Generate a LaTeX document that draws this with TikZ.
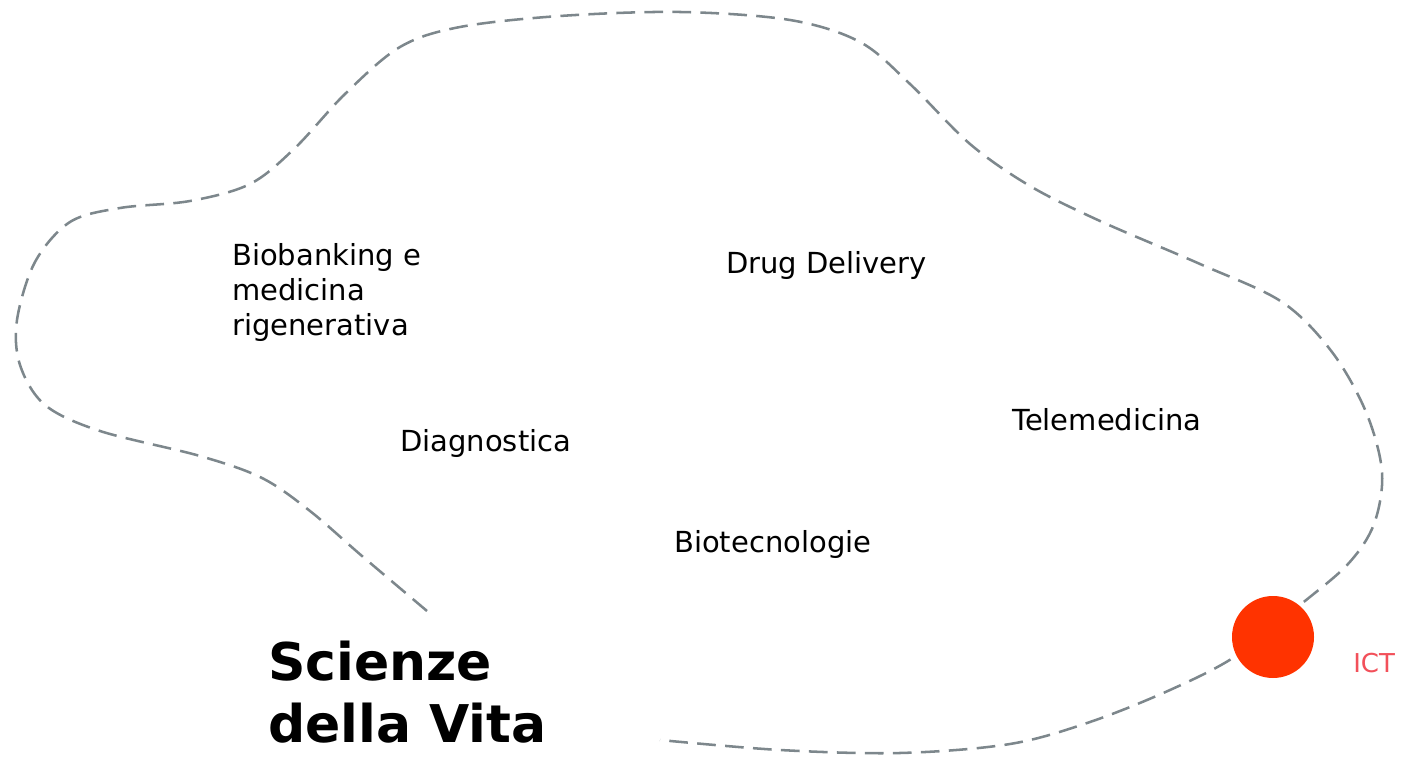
\documentclass[tikz,border=0pt]{standalone}
\usepackage{fontspec}
\setmainfont{DejaVu Sans}
\definecolor{outline}{HTML}{7D878C}
\definecolor{ictred}{HTML}{FF3300}
\definecolor{icttext}{HTML}{F2505A}
\tikzset{
  topic/.style={inner sep=0pt, anchor=base west, font={\fontsize{21.75}{26.25}\selectfont}},
  title/.style={inner sep=0pt, anchor=north west, align=left, font={\fontsize{39}{46.5}\selectfont\bfseries}},
  border/.style={outline, line width=1.9pt, dash pattern=on 14pt off 7pt}
}
\begin{document}
\begin{tikzpicture}[x=0.75pt, y=-0.75pt]
  \useasboundingbox (0,0) rectangle (1406,762);

  % Outline of the field
  \draw[border] plot[smooth, tension=0.55] coordinates {
    (427,611) (362,556) (310,511) (262,478) (200,456) (100,431)
    (45,405) (20,365) (17,320) (35,262) (70,222) (120,208) (190,201)
    (250,184) (295,148) (345,94) (400,47) (460,27) (560,16) (680,12)
    (790,20) (860,42) (910,84) (970,144) (1030,186) (1100,221) (1200,264)
    (1282,302) (1332,352) (1366,412) (1382,472) (1374,524) (1348,564)
    (1300,605) (1236,656) (1170,690) (1090,722) (1010,744) (900,753)
    (780,750) (660,740)};

  % Define node positions
  \node[topic, anchor=north west, align=left] (bio) at (232,243)
    {Biobanking e\\medicina\\rigenerativa};
  \node[topic] (drug) at (726,274) {Drug Delivery};
  \node[topic] (diag) at (400,452) {Diagnostica};
  \node[topic] (tele) at (1012,431) {Telemedicina};
  \node[topic] (biot) at (674,552) {Biotecnologie};

  \node[title] (sdv) at (268,641) {Scienze\\della Vita};

  % ICT marker
  \node[circle, fill=ictred, minimum size=61.5pt, inner sep=0pt] (dot) at (1273,637) {};
  \node[inner sep=0pt, anchor=base west, text=icttext, font={\fontsize{19.5}{23}\selectfont}] (ict) at (1353,672) {ICT};
\end{tikzpicture}
\end{document}
